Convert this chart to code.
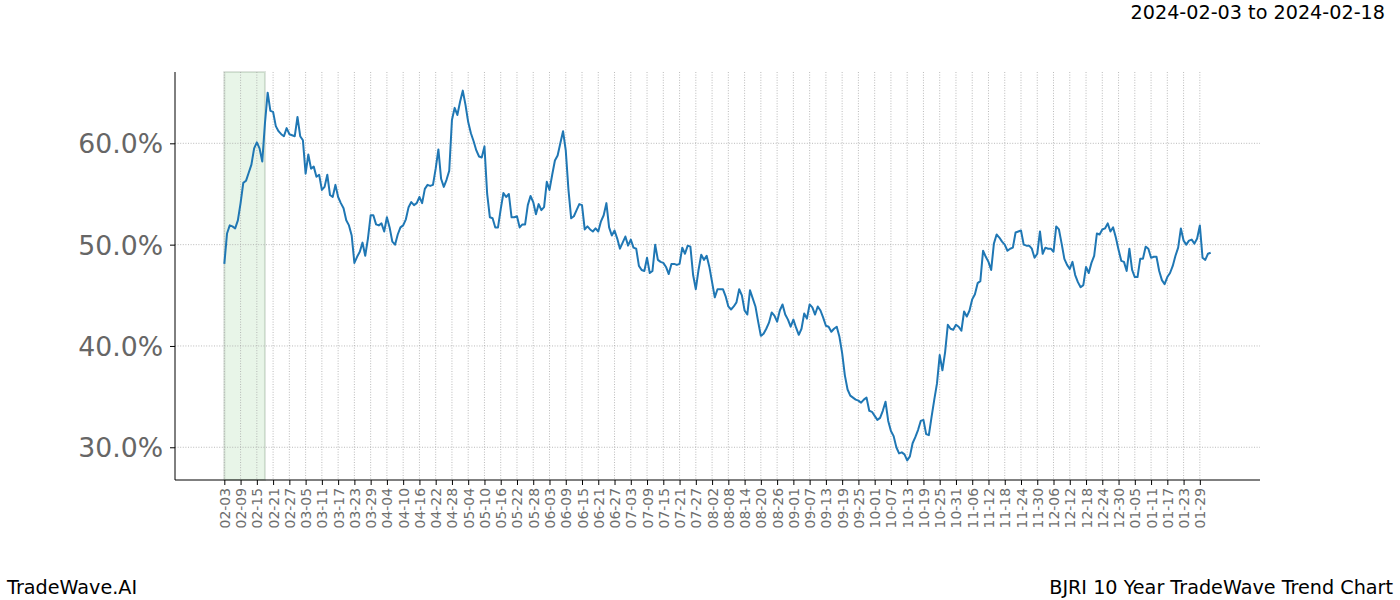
<!DOCTYPE html>
<html>
<head>
<meta charset="utf-8">
<script src="https://cdn.jsdelivr.net/npm/d3@7"></script>
<style>
  body { margin: 0; background: #fff; }
  svg text { font-family: "DejaVu Sans", sans-serif; }
</style>
</head>
<body>
<div id="chart"></div>
<script>
// one value per calendar day, 02-03 .. 02-02
const values = [
  48.1, 51.1, 51.9, 51.8, 51.6, 52.4, 54.1, 56.1, 56.3, 57.1,
  57.9, 59.5, 60.1, 59.5, 58.2, 62.0, 65.0, 63.2, 63.1, 61.7,
  61.2, 60.9, 60.7, 61.5, 60.9, 60.8, 60.7, 62.6, 60.7, 60.3,
  57.0, 58.9, 57.5, 57.7, 56.7, 56.9, 55.4, 55.7, 56.9, 54.9,
  54.7, 55.9, 54.7, 54.1, 53.6, 52.4, 51.9, 50.9, 48.2, 48.8,
  49.3, 50.2, 48.9, 50.6, 52.9, 52.9, 52.0, 51.9, 52.1, 51.3,
  52.7, 51.7, 50.3, 50.0, 51.0, 51.7, 51.9, 52.5, 53.7, 54.2,
  53.9, 54.1, 54.7, 54.1, 55.5, 55.9, 55.8, 55.9, 57.5, 59.4,
  56.5, 55.7, 56.4, 57.3, 62.3, 63.5, 62.8, 64.1, 65.2, 63.8,
  62.1, 61.0, 60.2, 59.3, 58.7, 58.6, 59.7, 55.0, 52.7, 52.6,
  51.7, 51.7, 53.5, 55.1, 54.7, 55.0, 52.7, 52.7, 52.8, 51.7,
  52.0, 52.0, 53.9, 54.8, 54.2, 53.0, 54.0, 53.4, 53.7, 56.2,
  55.4, 56.9, 58.3, 58.8, 60.0, 61.2, 59.3, 55.4, 52.6, 52.8,
  53.4, 54.0, 53.9, 51.5, 51.8, 51.5, 51.3, 51.6, 51.3, 52.3,
  52.9, 54.1, 51.7, 50.9, 51.4, 50.6, 49.6, 50.2, 50.8, 49.9,
  50.5, 49.7, 49.6, 47.9, 47.5, 47.4, 48.7, 47.2, 47.4, 50.0,
  48.5, 48.3, 48.2, 47.8, 47.1, 48.1, 48.1, 48.0, 48.1, 49.7,
  49.1, 49.9, 49.8, 47.0, 45.6, 47.5, 49.0, 48.5, 48.9, 47.8,
  46.3, 44.8, 45.6, 45.6, 45.6, 44.9, 43.9, 43.6, 43.9, 44.3,
  45.6, 45.0, 43.5, 43.1, 45.5, 44.7, 43.9, 42.4, 41.0, 41.2,
  41.7, 42.3, 43.3, 43.0, 42.4, 43.5, 44.1, 43.1, 42.6, 41.9,
  42.6, 41.8, 41.1, 41.7, 43.2, 42.7, 44.1, 43.8, 43.1, 43.9,
  43.5, 42.8, 42.0, 41.9, 41.4, 41.7, 41.9, 40.9, 39.3, 37.1,
  35.7, 35.1, 34.9, 34.7, 34.6, 34.4, 34.7, 34.9, 33.6, 33.5,
  33.1, 32.7, 32.9, 33.6, 34.5, 32.6, 31.6, 31.1, 30.0, 29.4,
  29.5, 29.3, 28.7, 29.1, 30.4, 31.0, 31.7, 32.6, 32.7, 31.3,
  31.2, 33.0, 34.7, 36.3, 39.1, 37.6, 39.4, 42.1, 41.7, 41.6,
  42.1, 41.9, 41.5, 43.4, 42.9, 43.5, 44.6, 45.1, 46.2, 46.4,
  49.4, 48.8, 48.3, 47.5, 50.1, 51.0, 50.7, 50.3, 50.0, 49.4,
  49.6, 49.7, 51.2, 51.3, 51.4, 50.0, 49.9, 49.9, 49.6, 48.7,
  49.1, 51.3, 49.1, 49.7, 49.6, 49.6, 49.3, 51.8, 51.5, 50.1,
  48.6, 48.0, 47.6, 48.3, 47.0, 46.3, 45.8, 46.0, 47.8, 47.2,
  48.2, 48.9, 51.1, 51.0, 51.5, 51.6, 52.1, 51.3, 51.7, 50.7,
  49.5, 48.4, 48.3, 47.4, 49.6, 47.5, 46.8, 46.8, 48.6, 48.6,
  49.8, 49.6, 48.7, 48.8, 48.8, 47.4, 46.5, 46.1, 46.8, 47.2,
  47.9, 48.9, 49.7, 51.6, 50.4, 50.0, 50.4, 50.5, 50.1, 50.6,
  51.9, 48.7, 48.5, 49.1, 49.2
]

// every 6th day
const tickLabels = [
  '02-03', '02-09', '02-15', '02-21', '02-27', '03-05', '03-11', '03-17', '03-23', '03-29',
  '04-04', '04-10', '04-16', '04-22', '04-28', '05-04', '05-10', '05-16', '05-22', '05-28',
  '06-03', '06-09', '06-15', '06-21', '06-27', '07-03', '07-09', '07-15', '07-21', '07-27',
  '08-02', '08-08', '08-14', '08-20', '08-26', '09-01', '09-07', '09-13', '09-19', '09-25',
  '10-01', '10-07', '10-13', '10-19', '10-25', '10-31', '11-06', '11-12', '11-18', '11-24',
  '11-30', '12-06', '12-12', '12-18', '12-24', '12-30', '01-05', '01-11', '01-17', '01-23',
  '01-29'
]
const tickStep = 6
const yTicks = [30, 40, 50, 60]
const highlight = [0, 15]   // 2024-02-03 .. 2024-02-18

const width = 1400
const height = 600
const plot = { left: 175, right: 1260, top: 72, bottom: 480 }

const svg = d3
    .select('#chart')
    .append('svg')
    .attr('width', width)
    .attr('height', height)

const n = values.length - 1
const x = d3
    .scaleLinear()
    .domain([-0.05 * n, 1.05 * n])
    .range([plot.left, plot.right])
const y = d3
    .scaleLinear()
    .domain([26.77, 67.04])
    .range([plot.bottom, plot.top])

// highlighted window
svg.append('rect')
    .attr('x', x(highlight[0]))
    .attr('y', plot.top)
    .attr('width', x(highlight[1]) - x(highlight[0]))
    .attr('height', plot.bottom - plot.top)
    .attr('fill', '#2ca02c')
    .attr('fill-opacity', 0.11)
    .attr('stroke', '#5a7a5a')
    .attr('stroke-opacity', 0.2)
    .attr('stroke-width', 2)

// grid
const xTickVals = tickLabels.map((d, i) => i * tickStep)
svg.append('g')
    .selectAll('line')
    .data(xTickVals)
    .enter()
    .append('line')
    .attr('x1', d => x(d))
    .attr('x2', d => x(d))
    .attr('y1', plot.top)
    .attr('y2', plot.bottom)
    .attr('stroke', '#a8a8a8')
    .attr('stroke-width', 0.8)
    .attr('stroke-dasharray', '1,1.6')
svg.append('g')
    .selectAll('line')
    .data(yTicks)
    .enter()
    .append('line')
    .attr('x1', plot.left)
    .attr('x2', plot.right)
    .attr('y1', d => y(d))
    .attr('y2', d => y(d))
    .attr('stroke', '#a8a8a8')
    .attr('stroke-width', 0.8)
    .attr('stroke-dasharray', '1,1.6')

// the series
const line = d3
    .line()
    .x((d, i) => x(i))
    .y(d => y(d))
svg.append('path')
    .datum(values)
    .attr('d', line)
    .attr('fill', 'none')
    .attr('stroke', '#1f77b4')
    .attr('stroke-width', 2)
    .attr('stroke-linejoin', 'round')

// axes
const yAxis = d3
    .axisLeft(y)
    .tickValues(yTicks)
    .tickSize(5)
    .tickPadding(7)
    .tickFormat(d => d.toFixed(1) + '%')
const yG = svg.append('g')
    .attr('transform', `translate(${plot.left},0)`)
    .call(yAxis)
yG.select('.domain').attr('d', `M0,${plot.top}V${plot.bottom}`).attr('stroke', '#000')
yG.selectAll('.tick line').attr('stroke', '#000')
yG.selectAll('.tick text')
    .attr('fill', '#666')
    .style('font-size', '26.7px')
    .attr('dy', '0.36em')

const xAxis = d3
    .axisBottom(x)
    .tickValues(xTickVals)
    .tickSize(5)
    .tickFormat((d, i) => tickLabels[i])
const xG = svg.append('g')
    .attr('transform', `translate(0,${plot.bottom})`)
    .call(xAxis)
xG.select('.domain').attr('d', `M${plot.left},0H${plot.right}`).attr('stroke', '#000')
xG.selectAll('.tick line').attr('stroke', '#000')
xG.selectAll('.tick text')
    .attr('fill', '#6e6e6e')
    .style('font-size', '13.9px')
    .attr('text-anchor', 'end')
    .attr('transform', 'rotate(-90)')
    .attr('x', -8)
    .attr('y', 0)
    .attr('dy', '0.36em')

// texts
svg.append('text')
    .attr('x', 1385)
    .attr('y', 19)
    .attr('text-anchor', 'end')
    .style('font-size', '19.2px')
    .text('2024-02-03 to 2024-02-18')
svg.append('text')
    .attr('x', 7)
    .attr('y', 594)
    .style('font-size', '19.2px')
    .text('TradeWave.AI')
svg.append('text')
    .attr('x', 1393)
    .attr('y', 594)
    .attr('text-anchor', 'end')
    .style('font-size', '19.2px')
    .text('BJRI 10 Year TradeWave Trend Chart')
</script>
</body>
</html>
